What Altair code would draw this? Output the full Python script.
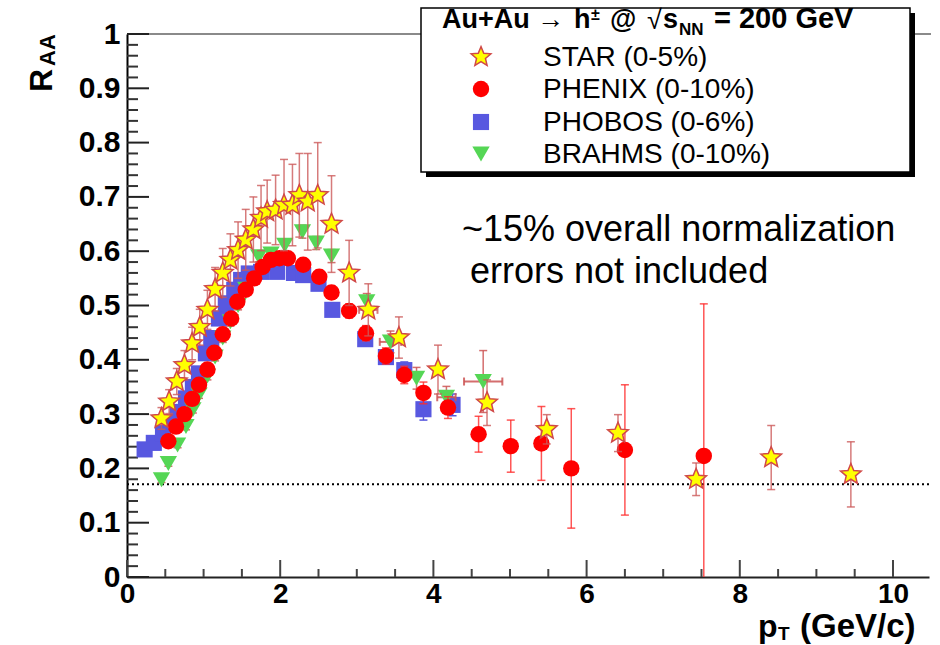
import altair as alt
import pandas as pd

# ---------------- data ----------------
star_pt = [0.45, 0.55, 0.65, 0.75, 0.85, 0.95, 1.05, 1.15, 1.25, 1.35, 1.45, 1.55, 1.65, 1.75, 1.83, 1.94,
           2.05, 2.16, 2.25, 2.36, 2.49, 2.67, 2.90, 3.15, 3.55, 4.06, 4.70, 5.48, 6.41, 7.43, 8.41, 9.45]
star_r = [0.292, 0.323, 0.360, 0.390, 0.430, 0.460, 0.492, 0.530, 0.560, 0.584, 0.602, 0.621, 0.640, 0.661, 0.673, 0.676,
          0.685, 0.685, 0.703, 0.691, 0.703, 0.650, 0.560, 0.492, 0.441, 0.382, 0.321, 0.272, 0.265, 0.180, 0.220, 0.189]
star_err = [0.020, 0.022, 0.024, 0.027, 0.030, 0.033, 0.036, 0.040, 0.045, 0.048, 0.052, 0.056, 0.060, 0.060, 0.058, 0.064,
            0.084, 0.075, 0.077, 0.089, 0.097, 0.089, 0.060, 0.048, 0.038, 0.045, 0.042, 0.027, 0.034, 0.030, 0.059, 0.060]
star_xerr = [0, 0, 0, 0, 0, 0, 0, 0, 0, 0, 0, 0, 0, 0, 0, 0,
             0, 0, 0, 0, 0, 0, 0, 0.12, 0, 0, 0, 0, 0, 0, 0, 0]

phenix_pt = [0.54, 0.64, 0.75, 0.85, 0.94, 1.05, 1.14, 1.25, 1.36, 1.44, 1.55, 1.66, 1.77, 1.88, 1.99, 2.10,
             2.30, 2.51, 2.67, 2.90, 3.12, 3.38, 3.62, 3.87, 4.19, 4.59, 5.01, 5.41, 5.80, 6.50, 7.53]
phenix_r = [0.250, 0.277, 0.300, 0.328, 0.354, 0.382, 0.413, 0.447, 0.476, 0.507, 0.529, 0.550, 0.571, 0.584, 0.587, 0.587,
            0.575, 0.553, 0.524, 0.490, 0.449, 0.407, 0.372, 0.339, 0.312, 0.263, 0.241, 0.246, 0.200, 0.234, 0.223]
phenix_err = [0.006, 0.006, 0.006, 0.007, 0.007, 0.008, 0.008, 0.008, 0.009, 0.009, 0.010, 0.010, 0.010, 0.010, 0.010, 0.010,
              0.011, 0.012, 0.012, 0.013, 0.014, 0.015, 0.016, 0.020, 0.020, 0.033, 0.048, 0.068, 0.110, 0.120, 0.280]

phobos_pt = [0.23, 0.35, 0.47, 0.57, 0.66, 0.77, 0.86, 0.94, 1.03, 1.10, 1.20, 1.29, 1.40, 1.49, 1.59, 1.75,
             1.96, 2.18, 2.30, 2.50, 2.68, 3.11, 3.38, 3.62, 3.87, 4.25]
phobos_r = [0.235, 0.247, 0.265, 0.283, 0.304, 0.329, 0.350, 0.375, 0.412, 0.440, 0.476, 0.504, 0.529, 0.547, 0.559, 0.562,
            0.562, 0.560, 0.556, 0.540, 0.492, 0.438, 0.405, 0.381, 0.309, 0.317]
phobos_err = [0.010, 0.010, 0.010, 0.010, 0.010, 0.010, 0.010, 0.010, 0.010, 0.010, 0.010, 0.010, 0.010, 0.010, 0.010, 0.010,
              0.010, 0.010, 0.010, 0.010, 0.010, 0.012, 0.013, 0.015, 0.020, 0.020]

brahms_pt = [0.45, 0.54, 0.66, 0.77, 0.86, 0.94, 1.05, 1.15, 1.25, 1.35, 1.45, 1.55, 1.72, 1.88, 2.06, 2.29,
             2.47, 2.67, 3.13, 3.44, 3.78, 4.17, 4.65]
brahms_r = [0.179, 0.209, 0.243, 0.277, 0.308, 0.335, 0.370, 0.405, 0.440, 0.470, 0.500, 0.530, 0.590, 0.595, 0.611, 0.636,
            0.615, 0.591, 0.507, 0.433, 0.366, 0.331, 0.360]
brahms_err = [0.005, 0.005, 0.005, 0.006, 0.006, 0.006, 0.007, 0.007, 0.008, 0.008, 0.008, 0.009, 0.010, 0.010, 0.010, 0.012,
              0.012, 0.012, 0.015, 0.020, 0.020, 0.020, 0.057]
brahms_xerr = [0, 0, 0, 0, 0, 0, 0, 0, 0, 0, 0, 0, 0, 0, 0, 0,
               0, 0, 0, 0.14, 0, 0.12, 0.25]

norm_line = [0.171]

x_major = [0, 2, 4, 6, 8, 10]
x_minor = [0.5, 1, 1.5, 2.5, 3, 3.5, 4.5, 5, 5.5, 6.5, 7, 7.5, 8.5, 9, 9.5, 10.5]
y_major = [0, 0.1, 0.2, 0.3, 0.4, 0.5, 0.6, 0.7, 0.8, 0.9, 1.0]
y_minor = [0.02, 0.04, 0.06, 0.08, 0.12, 0.14, 0.16, 0.18, 0.22, 0.24, 0.26, 0.28, 0.32, 0.34, 0.36, 0.38,
           0.42, 0.44, 0.46, 0.48, 0.52, 0.54, 0.56, 0.58, 0.62, 0.64, 0.66, 0.68, 0.72, 0.74, 0.76, 0.78,
           0.82, 0.84, 0.86, 0.88, 0.92, 0.94, 0.96, 0.98]

legend_labels = ["STAR (0-5%)", "PHENIX (0-10%)", "PHOBOS (0-6%)", "BRAHMS (0-10%)"]

# ---------------- layout / style ----------------
OX, OY = 127, 34          # plot-area origin in the page
W, H = 802, 543           # plot-area size
FONT = "Liberation Sans"

STAR_SHAPE = ("M0,-1L0.2645,-0.3641L0.9511,-0.309L0.428,0.1391L0.5878,0.809L0,0.45"
              "L-0.5878,0.809L-0.428,0.1391L-0.9511,-0.309L-0.2645,-0.3641Z")

XS = alt.Scale(domain=[0, 10.47], nice=False, zero=False)
YS = alt.Scale(domain=[0, 1], nice=False, zero=False)
XA = alt.Axis(values=x_major, title=None, grid=False, ticks=False, labelFont=FONT, labelFontSize=28,
              labelFontWeight="bold", labelColor="black", labelPadding=3, domainColor="#222222",
              domainWidth=2, format="d", labelFlush=False, labelOverlap=False)
YA = alt.Axis(values=y_major, title=None, grid=False, ticks=False, labelFont=FONT, labelFontSize=30,
              labelFontWeight="bold", labelColor="black", labelPadding=7, domainColor="black",
              domainWidth=2, format=".1~f", labelFlush=False, labelOverlap=False)


def X(f):
    return alt.X(f"{f}:Q", scale=XS, axis=XA)


def Y(f):
    return alt.Y(f"{f}:Q", scale=YS, axis=YA)


def frame(pt, r, err, xerr=None):
    d = pd.DataFrame({"pt": pt, "r": r, "err": err})
    d["lo"] = d["r"] - d["err"]
    d["hi"] = d["r"] + d["err"]
    d["xerr"] = xerr if xerr is not None else [0] * len(pt)
    d["xlo"] = d["pt"] - d["xerr"]
    d["xhi"] = d["pt"] + d["xerr"]
    return d


star = frame(star_pt, star_r, star_err, star_xerr)
phenix = frame(phenix_pt, phenix_r, phenix_err)
phobos = frame(phobos_pt, phobos_r, phobos_err)
brahms = frame(brahms_pt, brahms_r, brahms_err, brahms_xerr)


def errbars(d, color, opacity=1.0, width=1.5, cap=8):
    out = []
    v = d[d["err"] > 0]
    out.append(alt.Chart(v).mark_rule(color=color, strokeWidth=width, opacity=opacity, clip=True)
               .encode(x=X("pt"), y=Y("lo"), y2=alt.Y2("hi")))
    for f in ["lo", "hi"]:
        out.append(alt.Chart(v).mark_tick(orient="horizontal", size=cap, thickness=width, color=color,
                                          opacity=opacity, clip=True)
                   .encode(x=X("pt"), y=Y(f)))
    h = d[d["xerr"] > 0]
    if len(h):
        out.append(alt.Chart(h).mark_rule(color=color, strokeWidth=2, opacity=opacity, clip=True)
                   .encode(x=X("xlo"), x2=alt.X2("xhi"), y=Y("r")))
        for f in ["xlo", "xhi"]:
            out.append(alt.Chart(h).mark_tick(orient="vertical", size=cap, thickness=2, color=color,
                                              opacity=opacity, clip=True)
                       .encode(x=X(f), y=Y("r")))
    return out


DUMMY = pd.DataFrame({"a": [0]})


def txt(s, x, y, size, weight="normal", angle=0, align="left", baseline="alphabetic"):
    return (alt.Chart(DUMMY)
            .mark_text(text=s, font=FONT, fontSize=size, fontWeight=weight, angle=angle,
                       align=align, baseline=baseline, color="black")
            .encode(x=alt.value(x - OX), y=alt.value(y - OY)))


def box(x1, y1, x2, y2, fill, stroke=None):
    kw = dict(fill=fill)
    if stroke:
        kw.update(stroke=stroke, strokeWidth=1.5)
    return (alt.Chart(DUMMY).mark_rect(**kw)
            .encode(x=alt.value(x1 - OX), x2=alt.value(x2 - OX), y=alt.value(y1 - OY), y2=alt.value(y2 - OY)))


layers = []

# top frame line
layers.append(alt.Chart(DUMMY).mark_rule(color="#8a8a8a", strokeWidth=2)
              .encode(x=alt.value(0), x2=alt.value(W + 2), y=alt.value(0)))

# inward ticks
layers.append(alt.Chart(pd.DataFrame({"t": x_major})).mark_rule(color="#444444", strokeWidth=2)
              .encode(x=X("t"), y=alt.value(H), y2=alt.value(H - 17)))
layers.append(alt.Chart(pd.DataFrame({"t": x_minor})).mark_rule(color="#444444", strokeWidth=2, clip=True)
              .encode(x=X("t"), y=alt.value(H), y2=alt.value(H - 8)))
layers.append(alt.Chart(pd.DataFrame({"t": y_major})).mark_rule(color="#222222", strokeWidth=2)
              .encode(y=Y("t"), x=alt.value(0), x2=alt.value(22)))
layers.append(alt.Chart(pd.DataFrame({"t": y_minor})).mark_rule(color="#333333", strokeWidth=2)
              .encode(y=Y("t"), x=alt.value(0), x2=alt.value(11)))

# dotted normalization line
layers.append(alt.Chart(pd.DataFrame({"v": norm_line})).mark_rule(color="black", strokeWidth=2, strokeDash=[2, 3])
              .encode(y=Y("v"), x=alt.value(0), x2=alt.value(W)))

# series
layers += errbars(phobos, "#5555dd")
layers.append(alt.Chart(phobos).mark_point(shape="square", size=260, filled=True, color="#5858e0", opacity=1)
              .encode(x=X("pt"), y=Y("r")))
layers += errbars(brahms, "#cc5555", opacity=0.85)
layers.append(alt.Chart(brahms).mark_point(shape="triangle-down", size=300, filled=True, color="#55d655", opacity=1)
              .encode(x=X("pt"), y=Y("r")))
layers += errbars(phenix, "#ff2a2a", opacity=0.8)
layers.append(alt.Chart(phenix).mark_point(shape="circle", size=270, filled=True, color="#ff0000", opacity=1)
              .encode(x=X("pt"), y=Y("r")))
layers += errbars(star, "#cc5a5a", opacity=0.8)
layers.append(alt.Chart(star).mark_point(shape=STAR_SHAPE, size=470, filled=True, fill="#ffff00",
                                          stroke="#d04848", strokeWidth=1.5, opacity=1, fillOpacity=1,
                                          strokeOpacity=1)
              .encode(x=X("pt"), y=Y("r")))

# annotation
layers.append(txt("~15% overall normalization", 462, 241, 36))
layers.append(txt("errors not included", 470, 283, 36))

# axis titles
layers.append(txt("R", 52, 92, 32, "bold", angle=270))
layers.append(txt("AA", 55, 66, 22, "bold", angle=270))
layers.append(txt("p", 758, 637, 32, "bold"))
layers.append(txt("T", 778, 640, 19, "bold"))
layers.append(txt("(GeV/c)", 800, 637, 33, "bold"))

# legend box
layers.append(box(426, 13, 915, 177, "black"))
layers.append(box(421, 8, 910, 172, "white", "black"))
layers.append(txt("Au+Au", 442, 28, 27, "bold"))
layers.append(txt("\u2192", 537, 28, 27))
layers.append(txt("h", 574, 28, 27, "bold"))
layers.append(txt("\u00b1", 591, 20, 16, "bold"))
layers.append(txt("@", 610, 28, 27, "bold"))
layers.append(txt("\u221a", 647, 29, 27))
layers.append(txt("s", 663, 28, 27, "bold"))
layers.append(txt("NN", 679, 35, 17, "bold"))
layers.append(txt("= 200 GeV", 714, 28, 29, "bold"))

sym_x = 481
sym_y = [57, 89, 122, 154]
layers.append(alt.Chart(DUMMY).mark_point(shape=STAR_SHAPE, size=430, filled=True, fill="#ffff00",
                                           stroke="#d04848", strokeWidth=1.5, opacity=1)
              .encode(x=alt.value(sym_x - OX), y=alt.value(sym_y[0] - OY)))
layers.append(alt.Chart(DUMMY).mark_point(shape="circle", size=270, filled=True, color="#ff0000", opacity=1)
              .encode(x=alt.value(sym_x - OX), y=alt.value(sym_y[1] - OY)))
layers.append(alt.Chart(DUMMY).mark_point(shape="square", size=260, filled=True, color="#5858e0", opacity=1)
              .encode(x=alt.value(sym_x - OX), y=alt.value(sym_y[2] - OY)))
layers.append(alt.Chart(DUMMY).mark_point(shape="triangle-down", size=300, filled=True, color="#55d655", opacity=1)
              .encode(x=alt.value(sym_x - OX), y=alt.value(sym_y[3] - OY)))
for lab, yy in zip(legend_labels, sym_y):
    layers.append(txt(lab, 543, yy + 1, 28, baseline="middle"))

chart = (alt.layer(*layers)
         .properties(width=W, height=H, background="white",
                     padding={"left": OX, "top": OY, "right": 940 - OX - W, "bottom": 645 - OY - H},
                     autosize=alt.AutoSizeParams(type="none"))
         .configure_view(stroke=None))

chart.save("out.html", embed_options={"renderer": "svg", "actions": False})
